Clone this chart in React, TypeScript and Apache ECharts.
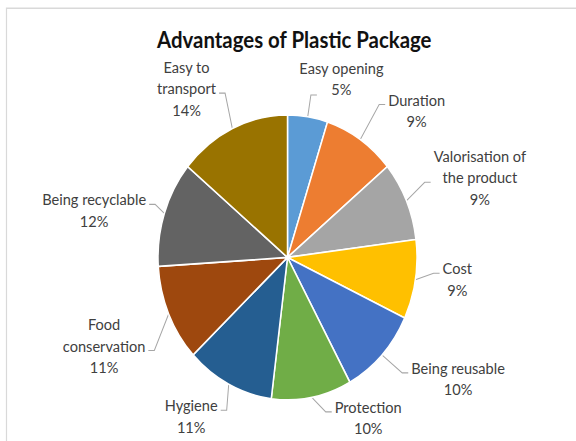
import React, { useEffect, useRef } from 'react';
import * as echarts from 'echarts';

const titleText = 'Advantages of Plastic Package';
const categories = [
  'Easy opening',
  'Duration',
  'Valorisation of the product',
  'Cost',
  'Being reusable',
  'Protection',
  'Hygiene',
  'Food conservation',
  'Being recyclable',
  'Easy to transport',
];
const labelBreaks = [
  ['Easy opening'],
  ['Duration'],
  ['Valorisation of', 'the product'],
  ['Cost'],
  ['Being reusable'],
  ['Protection'],
  ['Hygiene'],
  ['Food', 'conservation'],
  ['Being recyclable'],
  ['Easy to', 'transport'],
];
const values = [5, 9, 9, 9, 10, 10, 11, 11, 12, 14];
const colors = ['#5B9BD5', '#ED7D31', '#A5A5A5', '#FFC000', '#4472C4', '#70AD47', '#255E91', '#9E480E', '#636363', '#997300'];

// small per-label nudges (screen px) reproducing the spreadsheet's label placement
const labelNudges = [
  [0, 0],
  [10, -11],
  [0, -7],
  [-2, -11],
  [7, -2],
  [15, 0],
  [4, 0],
  [4, 25],
  [10, 0],
  [-2, -9],
];

const CX = 287.5;
const CY = 234;
const R = 129.5;
const LABEL_DIST = 156;
const LINE_H = 19.5;
const Y_SCALE = 1.1;

export default function App() {
  const ref = useRef<HTMLDivElement>(null);
  useEffect(() => {
    if (!ref.current) return;
    const chart = echarts.init(ref.current, null, { renderer: 'svg' });
    const total = values.reduce((a, b) => a + b, 0);
    const mids: number[] = [];
    let acc = 0;
    values.forEach((v) => {
      mids.push(((acc + v / 2) / total) * Math.PI * 2);
      acc += v;
    });

    const labelLayout = (p: any) => {
      const i = p.dataIndex;
      const th = mids[i];
      const ux = Math.sin(th);
      const uy = -Math.cos(th);
      const w = p.labelRect.width;
      const h = p.labelRect.height;
      const n = labelBreaks[i].length + 1;
      const S = [CX + R * ux, CY + R * uy];
      const nx = labelNudges[i][0];
      const ny = labelNudges[i][1] / Y_SCALE;
      if (uy < -0.95) {
        const B = [CX + (R + 20) * ux + nx, CY + (R + 20) * uy + ny];
        const E = [B[0] + 6, B[1]];
        return {
          x: E[0] + 0.29 * w,
          y: E[1] - 0.39 * h,
          align: 'center',
          verticalAlign: 'middle',
          labelLinePoints: [S, B, E],
        };
      }
      const side = ux >= 0 ? 1 : -1;
      const E = [CX + LABEL_DIST * ux, CY + LABEL_DIST * uy];
      const B = [E[0] - side * 6, E[1]];
      let yc = E[1] + (n % 2 === 0 ? LINE_H / 2 : 0) - 4.7;
      const maxBottom = 399;
      if (yc + h / 2 > maxBottom) {
        const shift = yc + h / 2 - maxBottom;
        yc -= shift;
        E[1] -= shift;
        B[1] -= shift;
      }
      E[0] += nx;
      B[0] += nx;
      E[1] += ny;
      B[1] += ny;
      yc += ny;
      return {
        x: E[0] + side * 3,
        y: yc,
        align: side > 0 ? 'left' : 'right',
        verticalAlign: 'middle',
        labelLinePoints: [S, B, E],
      };
    };

    chart.setOption({
      animation: false,
      backgroundColor: '#ffffff',
      title: {
        text: titleText,
        left: 152,
        top: 21,
        textStyle: { fontFamily: 'Lato', fontWeight: 'bold', fontSize: 20.4, color: '#111111' },
      },
      graphic: [
        {
          type: 'rect',
          shape: { x: 6.5, y: 7.5, width: 700, height: 600 },
          style: { fill: 'none', stroke: '#d9d9d9', lineWidth: 1.2 },
          silent: true,
        },
      ],
      series: [
        {
          type: 'pie',
          center: [CX, CY],
          radius: [0, R],
          startAngle: 90,
          clockwise: true,
          avoidLabelOverlap: false,
          percentPrecision: 0,
          itemStyle: { borderColor: '#ffffff', borderWidth: 1.5 },
          label: {
            show: true,
            position: 'outside',
            color: '#404040',
            fontFamily: 'Lato',
            fontSize: 14.6,
            lineHeight: LINE_H,
            formatter: (p: any) =>
              labelBreaks[p.dataIndex].map((l) => `{c|${l}}`).join('\n') + `\n{c|${p.percent}%}`,
            rich: {
              c: { align: 'center', color: '#404040', fontFamily: 'Lato', fontSize: 14.6, lineHeight: LINE_H },
            },
          },
          labelLine: {
            show: true,
            length: 20,
            length2: 6,
            lineStyle: { color: '#a6a6a6', width: 1 },
          },
          labelLayout,
          data: categories.map((name, i) => ({ name, value: values[i], itemStyle: { color: colors[i] } })),
        },
      ],
    });
    return () => chart.dispose();
  }, []);
  return (
    <div style={{ position: 'fixed', left: 0, top: 0, width: 576, height: 441, overflow: 'hidden', background: '#fff' }}>
      <div ref={ref} style={{ width: 576, height: 401, transform: `scaleY(${Y_SCALE})`, transformOrigin: '0 0' }} />
    </div>
  );
}
